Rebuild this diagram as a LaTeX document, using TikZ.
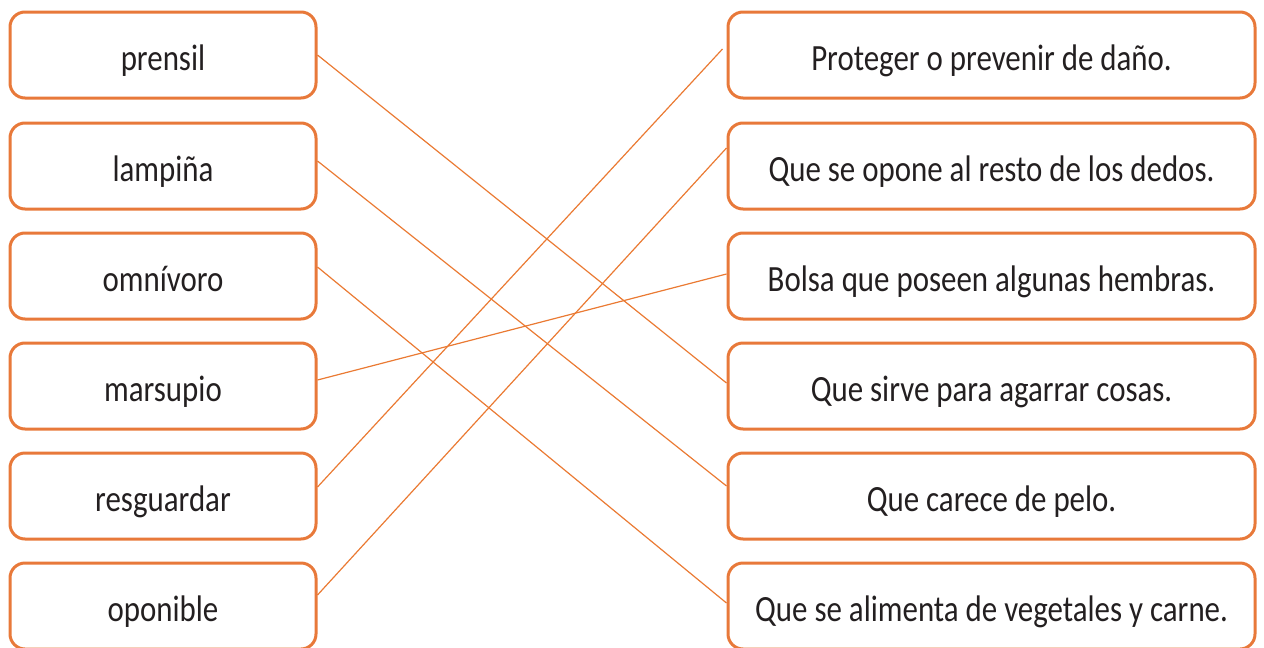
\documentclass[tikz,border=0pt]{standalone}
\usepackage{fontspec}
\setmainfont{Carlito}[FakeStretch=0.835]
\definecolor{boxorange}{HTML}{E8793A}
\definecolor{lineorange}{HTML}{EA7A33}
\definecolor{txtgray}{HTML}{231F20}
\begin{document}
\begin{tikzpicture}[x=1pt,y=-1pt,
  card/.style={draw=boxorange,line width=3pt,rounded corners=15pt,fill=white,
    inner sep=0pt,text=txtgray,font=\fontsize{37}{44}\selectfont,
    text height=32pt,text depth=2pt,minimum height=86pt},
  lcard/.style={card,minimum width=306pt},
  rcard/.style={card,minimum width=527pt},
  link/.style={draw=lineorange,line width=1.2pt}]
\useasboundingbox (0,0) rectangle (1264,648);
\node[lcard] (l1) at (163,55) {prensil};
\node[lcard] (l2) at (163,166) {lampiña};
\node[lcard] (l3) at (163,276) {omnívoro};
\node[lcard] (l4) at (163,386) {marsupio};
\node[lcard] (l5) at (163,496) {resguardar};
\node[lcard] (l6) at (163,606) {oponible};
\node[rcard] (r1) at (991.5,55) {Proteger o prevenir de daño.};
\node[rcard] (r2) at (991.5,166) {Que se opone al resto de los dedos.};
\node[rcard] (r3) at (991.5,276) {Bolsa que poseen algunas hembras.};
\node[rcard] (r4) at (991.5,386) {Que sirve para agarrar cosas.};
\node[rcard] (r5) at (991.5,496) {Que carece de pelo.};
\node[rcard] (r6) at (991.5,606) {Que se alimenta de vegetales y carne.};
\draw[link] (l1.east) -- ([yshift=3pt]r4.west);
\draw[link] ([yshift=5pt]l2.east) -- ([yshift=10pt]r5.west);
\draw[link] ([yshift=9pt]l3.east) -- ([yshift=3pt]r6.west);
\draw[link] ([yshift=6pt]l4.east) -- ([yshift=2pt]r3.west);
\draw[link] ([yshift=9pt]l5.east) -- ([yshift=6pt,xshift=-4pt]r1.west);
\draw[link] ([yshift=11pt]l6.east) -- ([yshift=18pt]r2.west);
\end{tikzpicture}
\end{document}
